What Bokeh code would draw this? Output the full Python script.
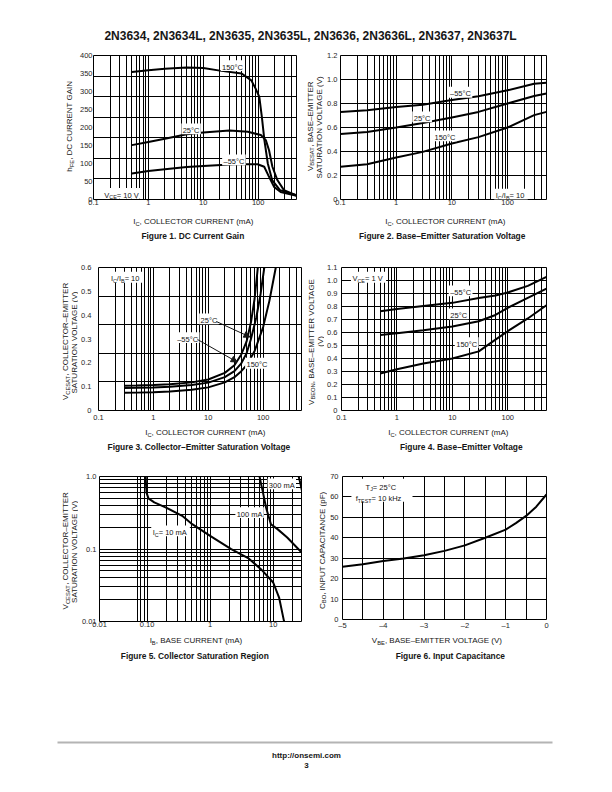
import math
from bokeh.plotting import figure
from bokeh.models import Range1d, FixedTicker, Label, BoxAnnotation, Arrow, NormalHead
from bokeh.layouts import column, row
from bokeh.embed import file_html
from bokeh.resources import INLINE

FONT = "Liberation Sans"
INK = "#161616"

# ---------------- data ----------------
page_title = "2N3634, 2N3634L, 2N3635, 2N3635L, 2N3636, 2N3636L, 2N3637, 2N3637L"

ic_ticks = [0.1, 1, 10, 100]
ic_tick_labels = ["0.1", "1", "10", "100"]
ic_minor = [0.2, 0.3, 0.4, 0.5, 0.6, 0.7, 0.8, 0.9, 2, 3, 4, 5, 6, 7, 8, 9,
            20, 30, 40, 50, 60, 70, 80, 90, 200, 300, 400]

# Figure 1 - DC current gain (VCE = 10 V)
f1_y_ticks = [0, 50, 100, 150, 200, 250, 300, 350, 400]
f1_y_labels = ["0", "50", "100", "150", "200", "250", "300", "350", "400"]
f1_grid_rows = [57.1, 114.3, 171.4, 228.6, 285.7, 342.9]
f1_ic_150 = [0.5, 1, 2, 5, 10, 20, 50, 75, 90, 105, 117, 130, 150, 180, 250, 500]
f1_hfe_150 = [354, 359, 363, 367, 365, 358, 350, 331, 308, 285, 229, 165, 100, 54, 26, 12]
f1_ic_25 = [0.5, 1, 2, 5, 10, 30, 65, 112, 138, 158, 182, 224, 295, 500]
f1_hfe_25 = [151, 160, 169, 181, 186, 192, 188, 179, 165, 137, 91, 54, 26, 11]
f1_ic_m55 = [0.5, 1, 2, 5, 10, 37, 98, 129, 158, 195, 257, 500]
f1_hfe_m55 = [72, 79, 84, 90, 93, 98, 98, 91, 63, 35, 21, 10]

# Figure 2 - Base-emitter saturation voltage (IC/IB = 10)
f2_y_ticks = [0, 0.2, 0.4, 0.6, 0.8, 1.0, 1.2]
f2_y_labels = ["0", "0.2", "0.4", "0.6", "0.8", "1.0", "1.2"]
f2_ic = [0.1, 0.3, 1, 3, 10, 30, 100, 300, 500]
f2_v_m55 = [0.73, 0.744, 0.77, 0.79, 0.83, 0.86, 0.91, 0.965, 0.972]
f2_v_25 = [0.545, 0.563, 0.6, 0.638, 0.683, 0.73, 0.8, 0.863, 0.883]
f2_v_150 = [0.272, 0.294, 0.35, 0.397, 0.467, 0.52, 0.6, 0.703, 0.73]

# Figure 3 - Collector-emitter saturation voltage (IC/IB = 10)
f3_y_ticks = [0, 0.1, 0.2, 0.3, 0.4, 0.5, 0.6]
f3_y_labels = ["0", "0.1", "0.2", "0.3", "0.4", "0.5", "0.6"]
f3_grid_rows = [0.12, 0.24, 0.36, 0.48]
f3_ic_m55 = [0.3, 0.5, 1, 2, 5, 10, 20, 30, 40, 50, 60, 70, 80]
f3_v_m55 = [0.104, 0.105, 0.107, 0.11, 0.118, 0.13, 0.158, 0.19, 0.235, 0.29, 0.37, 0.47, 0.6]
f3_ic_25 = [0.3, 0.5, 1, 2, 5, 10, 20, 30, 40, 50, 60, 75, 90, 105]
f3_v_25 = [0.094, 0.095, 0.097, 0.1, 0.107, 0.117, 0.14, 0.165, 0.198, 0.24, 0.3, 0.39, 0.49, 0.6]
f3_ic_150 = [0.3, 0.5, 1, 2, 5, 10, 20, 30, 40, 50, 70, 100, 130, 170]
f3_v_150 = [0.074, 0.075, 0.077, 0.08, 0.087, 0.097, 0.118, 0.14, 0.165, 0.19, 0.25, 0.35, 0.46, 0.6]

# Figure 4 - Base-emitter voltage (VCE = 1 V)
f4_y_ticks = [0, 0.1, 0.2, 0.3, 0.4, 0.5, 0.6, 0.7, 0.8, 0.9, 1.0, 1.1]
f4_y_labels = ["0", "0.1", "0.2", "0.3", "0.4", "0.5", "0.6", "0.7", "0.8", "0.9", "1.0", "1.1"]
f4_ic = [0.5, 1, 3, 10, 30, 60, 100, 230, 500]
f4_v_m55 = [0.764, 0.78, 0.803, 0.828, 0.865, 0.885, 0.908, 0.959, 1.028]
f4_v_25 = [0.58, 0.595, 0.618, 0.646, 0.687, 0.735, 0.79, 0.867, 0.938]
f4_v_150 = [0.285, 0.318, 0.361, 0.4, 0.455, 0.545, 0.61, 0.708, 0.81]

# Figure 5 - Collector saturation region
f5_x_range = (0.0176, 28.1)
f5_x_ticks = [0.0177, 0.1, 1, 10]
f5_x_labels = ["0.01", "0.10", "1", "10"]
f5_x_minor = [0.07, 0.08, 0.09, 0.2, 0.3, 0.4, 0.5, 0.6, 0.7, 0.8, 0.9,
              2, 3, 4, 5, 6, 7, 8, 9, 20]
f5_y_ticks = [0.01, 0.1, 1.0]
f5_y_labels = ["0.01", "0.1", "1.0"]
f5_y_minor = [0.02, 0.03, 0.04, 0.05, 0.06, 0.07, 0.08, 0.09,
              0.2, 0.3, 0.4, 0.5, 0.6, 0.7, 0.8, 0.9]
f5_ib_10 = [0.095, 0.096, 0.098, 0.105, 0.13, 0.2, 0.36, 0.52, 1.0, 2.16, 4.0, 6.4, 10, 12.4, 14.8, 15.8]
f5_v_10 = [1.05, 0.8, 0.6, 0.5, 0.44, 0.373, 0.287, 0.22, 0.152, 0.0994, 0.075, 0.0527, 0.0345, 0.0214, 0.0102, 0.0085]
f5_ib_100 = [6.0, 6.4, 6.8, 7.7, 9.2, 11.7, 16.7, 26.8, 35]
f5_v_100 = [1.05, 0.8, 0.634, 0.373, 0.22, 0.188, 0.144, 0.094, 0.075]
f5_ib_300 = [25.0, 27.0, 29.0]
f5_v_300 = [1.05, 0.8, 0.6]

# Figure 6 - Input capacitance
f6_x_ticks = [-5, -4, -3, -2, -1, 0]
f6_x_labels = ["\u20135", "\u20134", "\u20133", "\u20132", "\u20131", "0"]
f6_x_minor = [-4.5, -3.5, -2.5, -1.5, -0.5]
f6_y_ticks = [0, 10, 20, 30, 40, 50, 60, 70]
f6_y_labels = ["0", "10", "20", "30", "40", "50", "60", "70"]
f6_vbe = [-5, -4.5, -4, -3.5, -3, -2.5, -2, -1.5, -1, -0.75, -0.5, -0.25, 0]
f6_c = [25.8, 27.1, 28.6, 29.9, 31.5, 33.6, 36.3, 40.0, 44.0, 47.2, 50.7, 55.2, 61.2]

# ---------------- text metrics (Arial-compatible) ----------------
W = {' ': 278, '!': 278, '(': 333, ')': 333, ',': 278, '-': 333, '.': 278, '/': 278,
     ':': 278, '=': 584, '\u00b0': 400, '\u2013': 556}
for d in "0123456789":
    W[d] = 556
W.update(dict(A=667, B=667, C=722, D=722, E=667, F=611, G=778, H=722, I=278, J=500, K=667,
              L=556, M=833, N=722, O=778, P=667, Q=778, R=722, S=667, T=611, U=722, V=667,
              W=944, X=667, Y=667, Z=611))
W.update(dict(a=556, b=556, c=500, d=556, e=556, f=278, g=556, h=556, i=222, j=222, k=500,
              l=222, m=833, n=556, o=556, p=556, q=556, r=333, s=500, t=278, u=556, v=500,
              w=722, x=500, y=500, z=500))
WB = dict(W)
WB.update(dict(b=611, c=556, d=611, f=333, g=611, h=611, i=278, j=278, k=556, l=278, m=889,
               n=611, o=611, p=611, q=611, r=389, s=556, t=333, u=611, v=556, w=778, y=556,
               L=611))
WB[':'] = 333


def twidth(s, size, bold=False):
    tbl = WB if bold else W
    return sum(tbl.get(ch, 556) for ch in s) * size / 1000.0


def spec(fig, frame, xr, yr, xlog=False, ylog=False):
    # fig / frame: (left, top, right, bottom) in page px
    return dict(fl=fig[0], ft=fig[1], w=fig[2] - fig[0], h=fig[3] - fig[1],
                fx0=frame[0], fy0=frame[1], fx1=frame[2], fy1=frame[3],
                xr=xr, yr=yr, xlog=xlog, ylog=ylog)


def text_spec(box):
    return spec(box, box, (box[0], box[2]), (box[3], box[1]))


def to_data(s, px, py):
    fx = (px - s['fx0']) / (s['fx1'] - s['fx0'])
    fy = (s['fy1'] - py) / (s['fy1'] - s['fy0'])
    lo, hi = s['xr']
    x = lo * (hi / lo) ** fx if s['xlog'] else lo + fx * (hi - lo)
    lo, hi = s['yr']
    y = lo * (hi / lo) ** fy if s['ylog'] else lo + fy * (hi - lo)
    return x, y


def rich(p, s, segs, px, py, size=8.0, bold=False, align="center", vertical=False,
         color=INK, box=False, pad=1.5):
    """Text made of normal / subscript segments; (px, py) = baseline anchor in page px."""
    sub_k = 0.72
    parts = []
    for t, sub in segs:
        fs = size * sub_k if sub else size
        parts.append((t, sub, fs, twidth(t, fs, bold)))
    total = sum(q[3] for q in parts)
    off = -total / 2 if align == "center" else (-total if align == "right" else 0.0)
    x, y = to_data(s, px, py)
    if box:
        l, t_ = to_data(s, px + off - pad, py - 0.74 * size - pad)
        r, b = to_data(s, px + off + total + pad, py + 0.3 * size + pad)
        p.add_layout(BoxAnnotation(left=l, right=r, top=t_, bottom=b, fill_color="white",
                                   fill_alpha=1.0, line_color=None))
    for t, sub, fs, w in parts:
        drop = 0.28 * size if sub else 0.0
        kw = dict(x=x, y=y, text=t, text_font=FONT, text_font_size=f"{fs:.2f}px",
                  text_color=color, text_font_style="bold" if bold else "normal",
                  text_align="left", text_baseline="alphabetic")
        if vertical:
            kw.update(angle=math.pi / 2, x_offset=drop, y_offset=off)
        else:
            kw.update(x_offset=off, y_offset=-drop)
        p.add_layout(Label(**kw))
        off += w


def make_fig(s, axes=True):
    p = figure(width=int(s['w']), height=int(s['h']),
               x_range=Range1d(*s['xr']), y_range=Range1d(*s['yr']),
               x_axis_type=("log" if s['xlog'] else "linear") if axes else None,
               y_axis_type=("log" if s['ylog'] else "linear") if axes else None,
               output_backend="svg", toolbar_location=None,
               min_border_left=int(round(s['fx0'] - s['fl'])),
               min_border_right=int(round(s['fl'] + s['w'] - s['fx1'])),
               min_border_top=int(round(s['fy0'] - s['ft'])),
               min_border_bottom=int(round(s['ft'] + s['h'] - s['fy1'])))
    p.background_fill_color = "white"
    p.border_fill_color = "white"
    if axes:
        p.outline_line_color = "black"
        p.outline_line_width = 1
    else:
        p.outline_line_color = None
    return p


def text_fig(box):
    s = text_spec(box)
    return make_fig(s, axes=False), s


def setup_axes(p, xt, xl, xminor, yt, yl, yminor, xstand, ystand):
    p.xaxis.ticker = FixedTicker(ticks=xt, minor_ticks=xminor)
    p.yaxis.ticker = FixedTicker(ticks=yt, minor_ticks=yminor)
    p.xaxis.major_label_overrides = dict(zip(xt, xl))
    p.yaxis.major_label_overrides = dict(zip(yt, yl))
    p.axis.axis_line_color = None
    p.axis.major_tick_line_color = None
    p.axis.minor_tick_line_color = None
    p.axis.major_tick_out = 0
    p.axis.major_tick_in = 0
    p.axis.minor_tick_out = 0
    p.axis.minor_tick_in = 0
    p.axis.major_label_text_font = FONT
    p.axis.major_label_text_font_size = "7.5px"
    p.axis.major_label_text_color = "#262626"
    p.xaxis.major_label_standoff = xstand
    p.yaxis.major_label_standoff = ystand
    p.grid.grid_line_color = "black"
    p.grid.grid_line_width = 1
    p.xgrid.minor_grid_line_color = "black"
    p.xgrid.minor_grid_line_width = 1


def curve(p, xs, ys):
    p.line(xs, ys, line_color="black", line_width=2)


ICX = [("I", False), ("C", True), (", COLLECTOR CURRENT (mA)", False)]
CELSIUS150 = [("150\u00b0C", False)]
CELSIUS25 = [("25\u00b0C", False)]
CELSIUSM55 = [("\u201355\u00b0C", False)]
ICIB = [("I", False), ("C", True), ("/I", False), ("B", True), (" = 10", False)]

# ---------------- header ----------------
ph, SH = text_fig((0, 0, 610, 45))
rich(ph, SH, [(page_title, False)], 310, 35, size=12, bold=True)

# ---------------- Figure 1 ----------------
S1 = spec((76, 45, 302, 212), (90, 55, 296, 199), (0.1, 500), (0, 400), xlog=True)
p1 = make_fig(S1)
setup_axes(p1, ic_ticks, ic_tick_labels, ic_minor, f1_y_ticks, f1_y_labels, [], 0, 1)
p1.ygrid.ticker = FixedTicker(ticks=f1_grid_rows)
curve(p1, f1_ic_150, f1_hfe_150)
curve(p1, f1_ic_25, f1_hfe_25)
curve(p1, f1_ic_m55, f1_hfe_m55)
rich(p1, S1, CELSIUS150, 231, 66.7, size=7.5, box=True)
rich(p1, S1, CELSIUS25, 189, 130, size=7.5, box=True)
rich(p1, S1, CELSIUSM55, 232.5, 161, size=7.5, box=True)
rich(p1, S1, [("V", False), ("CE", True), (" = 10 V", False)], 101, 194.5, size=7.5,
     align="left", box=True)
y1, Y1 = text_fig((0, 45, 76, 212))
rich(y1, Y1, [("h", False), ("FE", True), (", DC CURRENT GAIN", False)], 69, 127, size=8,
     vertical=True)
c1, C1 = text_fig((0, 212, 302, 245))
rich(c1, C1, ICX, 193, 221, size=8)
rich(c1, C1, [("Figure 1. DC Current Gain", False)], 192.5, 235, size=8.4, bold=True)
cell1 = column(row(y1, p1), c1)

# ---------------- Figure 2 ----------------
S2 = spec((324, 45, 610, 212), (339, 55, 546, 199), (0.1, 500), (0, 1.2), xlog=True)
p2 = make_fig(S2)
setup_axes(p2, ic_ticks, ic_tick_labels, ic_minor, f2_y_ticks, f2_y_labels, [], 0, 3)
curve(p2, f2_ic, f2_v_m55)
curve(p2, f2_ic, f2_v_25)
curve(p2, f2_ic, f2_v_150)
rich(p2, S2, CELSIUSM55, 459.5, 93.4, size=7.5, box=True)
rich(p2, S2, CELSIUS25, 421, 118, size=7.5, box=True)
rich(p2, S2, CELSIUS150, 444, 137, size=7.5, box=True)
rich(p2, S2, ICIB, 495, 195.4, size=7.5, align="left", box=True)
y2, Y2 = text_fig((302, 45, 324, 212))
rich(y2, Y2, [("V", False), ("BESAT", True), (", BASE\u2013EMITTER", False)], 309.5, 127,
     size=8, vertical=True)
rich(y2, Y2, [("SATURATION VOLTAGE (V)", False)], 318.5, 127, size=8, vertical=True)
c2, C2 = text_fig((302, 212, 610, 245))
rich(c2, C2, ICX, 445, 221, size=8)
rich(c2, C2, [("Figure 2. Base\u2013Emitter Saturation Voltage", False)], 442, 235, size=8.4,
     bold=True)
cell2 = column(row(y2, p2), c2)

# ---------------- Figure 3 ----------------
S3 = spec((78, 245, 302, 425), (96, 267, 301, 410), (0.1, 500), (0, 0.6), xlog=True)
p3 = make_fig(S3)
setup_axes(p3, ic_ticks, ic_tick_labels, ic_minor, f3_y_ticks, f3_y_labels, [], 4, 7)
p3.ygrid.ticker = FixedTicker(ticks=f3_grid_rows)
curve(p3, f3_ic_m55, f3_v_m55)
curve(p3, f3_ic_25, f3_v_25)
curve(p3, f3_ic_150, f3_v_150)
rich(p3, S3, ICIB, 108.5, 278.4, size=7.5, align="left", box=True)
rich(p3, S3, CELSIUS25, 207.5, 320, size=7.5, box=True)
rich(p3, S3, CELSIUSM55, 186, 338.7, size=7.5, box=True)
rich(p3, S3, CELSIUS150, 256, 364.4, size=7.5, box=True)
for (sx, sy), (ex, ey) in [((215, 321), (249, 336.5)), ((196, 339), (236, 361.5))]:
    xs, ys = to_data(S3, sx, sy)
    xe, ye = to_data(S3, ex, ey)
    p3.add_layout(Arrow(x_start=xs, y_start=ys, x_end=xe, y_end=ye, line_color=INK,
                        line_width=1, end=NormalHead(size=6, fill_color=INK, line_color=INK)))
y3, Y3 = text_fig((0, 245, 78, 425))
rich(y3, Y3, [("V", False), ("CESAT", True), (", COLLECTOR\u2013EMITTER", False)], 65, 338,
     size=8, vertical=True)
rich(y3, Y3, [("SATURATION VOLTAGE (V)", False)], 73.5, 338, size=8, vertical=True)
c3, C3 = text_fig((0, 425, 302, 460))
rich(c3, C3, ICX, 205, 432, size=8)
rich(c3, C3, [("Figure 3. Collector\u2013Emitter Saturation Voltage", False)], 199, 446.5,
     size=8.4, bold=True)
cell3 = column(row(y3, p3), c3)

# ---------------- Figure 4 ----------------
S4 = spec((324, 245, 610, 425), (340, 267, 546, 410), (0.1, 500), (0, 1.1), xlog=True)
p4 = make_fig(S4)
setup_axes(p4, ic_ticks, ic_tick_labels, ic_minor, f4_y_ticks, f4_y_labels, [], 4, 4)
curve(p4, f4_ic, f4_v_m55)
curve(p4, f4_ic, f4_v_25)
curve(p4, f4_ic, f4_v_150)
rich(p4, S4, [("V", False), ("CE", True), (" = 1 V", False)], 351, 278.4, size=7.5,
     align="left", box=True)
rich(p4, S4, CELSIUSM55, 459.7, 292, size=7.5, box=True)
rich(p4, S4, CELSIUS25, 457.8, 315, size=7.5, box=True)
rich(p4, S4, CELSIUS150, 465.8, 343.7, size=7.5, box=True)
y4, Y4 = text_fig((302, 245, 324, 425))
rich(y4, Y4, [("V", False), ("BEON", True), (", BASE\u2013EMITTER VOLTAGE", False)], 310.5, 338,
     size=8, vertical=True)
rich(y4, Y4, [("(V)", False)], 319.5, 338, size=8, vertical=True)
c4, C4 = text_fig((302, 425, 610, 460))
rich(c4, C4, ICX, 448, 432, size=8)
rich(c4, C4, [("Figure 4. Base\u2013Emitter Voltage", False)], 461, 446.5, size=8.4, bold=True)
cell4 = column(row(y4, p4), c4)

# ---------------- Figure 5 ----------------
S5 = spec((78, 460, 302, 632), (96, 476, 301, 621), f5_x_range, (0.01, 1.0), xlog=True, ylog=True)
p5 = make_fig(S5)
setup_axes(p5, f5_x_ticks, f5_x_labels, f5_x_minor, f5_y_ticks, f5_y_labels, f5_y_minor, 0, 3)
p5.ygrid.minor_grid_line_color = "black"
p5.ygrid.minor_grid_line_width = 1
curve(p5, f5_ib_10, f5_v_10)
curve(p5, f5_ib_100, f5_v_100)
curve(p5, f5_ib_300, f5_v_300)
rich(p5, S5, [("300 mA", False)], 281, 485, size=7.5, box=True)
rich(p5, S5, [("100 mA", False)], 248.3, 513.7, size=7.5, box=True)
rich(p5, S5, [("I", False), ("C", True), (" = 10 mA", False)], 150, 532, size=7.5,
     align="left", box=True)
y5, Y5 = text_fig((0, 460, 78, 632))
rich(y5, Y5, [("V", False), ("CESAT", True), (", COLLECTOR\u2013EMITTER", False)], 65, 548,
     size=8, vertical=True)
rich(y5, Y5, [("SATURATION VOLTAGE (V)", False)], 73.5, 548, size=8, vertical=True)
c5, C5 = text_fig((0, 632, 302, 680))
rich(c5, C5, [("I", False), ("B", True), (", BASE CURRENT (mA)", False)], 195.5, 640, size=8)
rich(c5, C5, [("Figure 5. Collector Saturation Region", False)], 194.5, 655.5, size=8.4,
     bold=True)
cell5 = column(row(y5, p5), c5)

# ---------------- Figure 6 ----------------
S6 = spec((327, 460, 610, 632), (340, 476, 546, 621), (-5, 0), (0, 70))
p6 = make_fig(S6)
setup_axes(p6, f6_x_ticks, f6_x_labels, f6_x_minor, f6_y_ticks, f6_y_labels, [], 1, 4)
curve(p6, f6_vbe, f6_c)
l6, t6 = to_data(S6, 349, 478.3)
r6, b6 = to_data(S6, 410.7, 501.7)
p6.add_layout(BoxAnnotation(left=l6, right=r6, top=t6, bottom=b6, fill_color="white",
                            fill_alpha=1.0, line_color=None))
rich(p6, S6, [("T", False), ("J", True), (" = 25\u00b0C", False)], 363.3, 487, size=7.5,
     align="left")
rich(p6, S6, [("f", False), ("TEST", True), (" = 10 kHz", False)], 353.3, 498.4, size=7.5,
     align="left")
y6, Y6 = text_fig((302, 460, 327, 632))
rich(y6, Y6, [("C", False), ("BO", True), (", INPUT CAPACITANCE (pF)", False)], 321.5, 548,
     size=8, vertical=True)
c6, C6 = text_fig((302, 632, 610, 680))
rich(c6, C6, [("V", False), ("BE", True), (", BASE\u2013EMITTER VOLTAGE (V)", False)], 437, 640,
     size=8)
rich(c6, C6, [("Figure 6. Input Capacitance", False)], 450, 655.5, size=8.4, bold=True)
cell6 = column(row(y6, p6), c6)

# ---------------- footer ----------------
pf, SF = text_fig((0, 680, 610, 770))
pf.line([57, 552], [742, 742], line_color="#b4b4b4", line_width=2)
rich(pf, SF, [("http://onsemi.com", False)], 306, 755, size=8, bold=True)
rich(pf, SF, [("3", False)], 306, 765, size=8, bold=True)

layout = column(ph, row(cell1, cell2), row(cell3, cell4), row(cell5, cell6), pf)
open("out.html", "w").write(file_html(layout, INLINE))
